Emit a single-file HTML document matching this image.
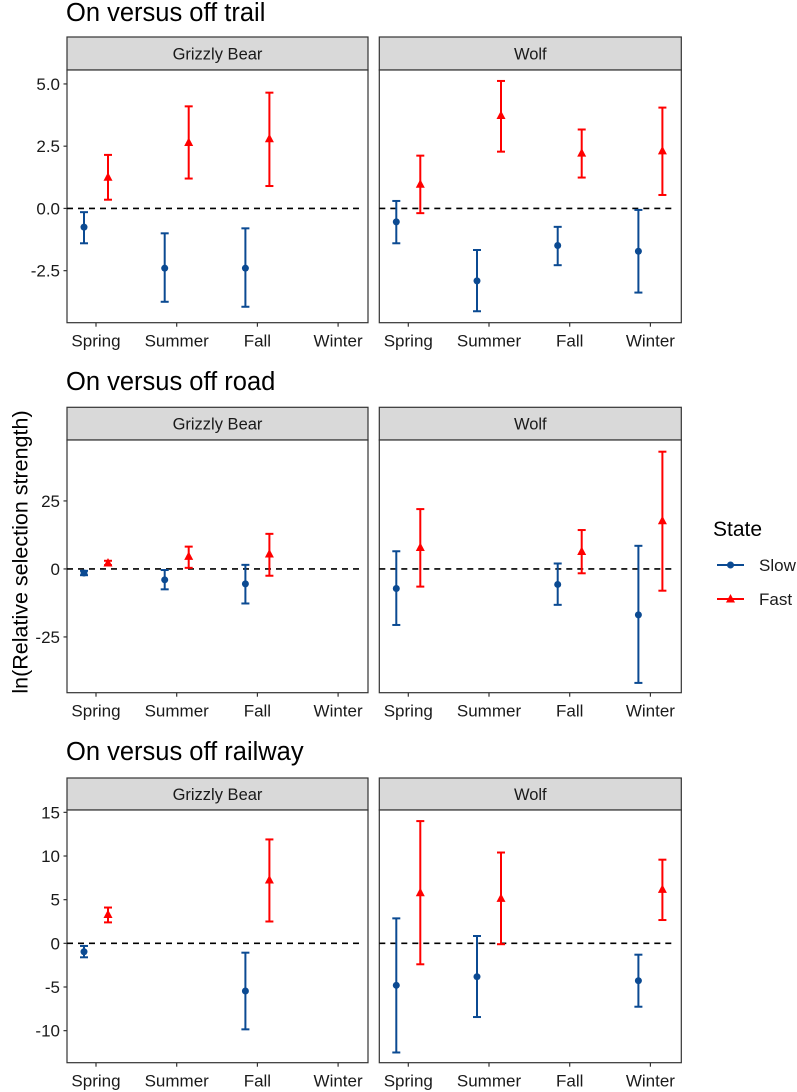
<!DOCTYPE html>
<html><head><meta charset="utf-8"><style>
html,body{margin:0;padding:0;background:#fff;}
svg{display:block;font-family:"Liberation Sans",Arial,sans-serif;}
</style></head><body>
<svg id="chart" width="797" height="1092" viewBox="0 0 797 1092" xmlns="http://www.w3.org/2000/svg">
<text transform="translate(22,552) rotate(-90)" text-anchor="middle" dominant-baseline="middle" font-size="21.5" fill="#000">ln(Relative selection strength)</text>
<g>
<text x="713" y="536" font-size="21" fill="#000">State</text>
<g>
<line x1="717" y1="565" x2="744" y2="565" stroke="#0b4a92" stroke-width="2"/>
<circle cx="730.5" cy="565" r="3.5" fill="#0b4a92"/>
<text x="759" y="571" font-size="17" fill="#1a1a1a">Slow</text></g>
<g>
<line x1="717" y1="599" x2="744" y2="599" stroke="#ff0000" stroke-width="2"/>
<path d="M730.5,594 L735,602.5 L726,602.5 Z" fill="#ff0000"/>
<text x="759" y="605" font-size="17" fill="#1a1a1a">Fast</text></g>
</g>
</svg>
<script>
const seasons = ["Spring","Summer","Fall","Winter"];
const rowTitles = ["On versus off trail","On versus off road","On versus off railway"];
const species = ["Grizzly Bear","Wolf"];
const ticksTrail = [-2.5,0,2.5,5];
const tickLabelsTrail = ["-2.5","0.0","2.5","5.0"];
const ticksRoad = [-25,0,25];
const tickLabelsRoad = ["-25","0","25"];
const ticksRail = [-10,-5,0,5,10,15];
const tickLabelsRail = ["-10","-5","0","5","10","15"];
// values: [season index, estimate, lower, upper]
const trailBearSlow = [[0,-0.75,-1.4,-0.15],[1,-2.4,-3.75,-1.0],[2,-2.4,-3.95,-0.8]];
const trailBearFast = [[0,1.25,0.35,2.15],[1,2.65,1.2,4.1],[2,2.8,0.9,4.65]];
const trailWolfSlow = [[0,-0.54,-1.4,0.3],[1,-2.91,-4.13,-1.67],[2,-1.49,-2.28,-0.74],[3,-1.72,-3.38,-0.06]];
const trailWolfFast = [[0,0.97,-0.19,2.12],[1,3.73,2.28,5.12],[2,2.22,1.24,3.17],[3,2.31,0.54,4.05]];
const roadBearSlow = [[0,-1.5,-2.3,-0.7],[1,-4.0,-7.5,-0.4],[2,-5.5,-12.7,1.5]];
const roadBearFast = [[0,2.2,1.4,3.0],[1,4.6,0.4,8.2],[2,5.5,-2.5,12.9]];
const roadWolfSlow = [[0,-7.2,-20.6,6.5],[2,-5.7,-13.2,2.0],[3,-16.9,-41.9,8.5]];
const roadWolfFast = [[0,7.9,-6.5,22],[2,6.4,-1.6,14.3],[3,17.7,-8.0,43.1]];
const railBearSlow = [[0,-0.96,-1.6,-0.3],[2,-5.46,-9.85,-1.07]];
const railBearFast = [[0,3.3,2.4,4.1],[2,7.25,2.5,11.9]];
const railWolfSlow = [[0,-4.81,-12.5,2.86],[1,-3.82,-8.44,0.84],[3,-4.28,-7.26,-1.3]];
const railWolfFast = [[0,5.8,-2.4,14.0],[1,5.15,-0.1,10.4],[3,6.18,2.67,9.58]];

const svg = document.getElementById('chart');
const NS = 'http://www.w3.org/2000/svg';
function mk(tag, attrs, parent){const e=document.createElementNS(NS,tag);for(const k in attrs)e.setAttribute(k,attrs[k]);(parent||svg).appendChild(e);return e;}

const rows = [
 {title:rowTitles[0], titleY:21, stripTop:37, top:70, bottom:322.7, dmax:5.56, dmin:-4.59, ticks:ticksTrail, labels:tickLabelsTrail, data:[[trailBearSlow,trailBearFast],[trailWolfSlow,trailWolfFast]]},
 {title:rowTitles[1], titleY:390, stripTop:407.3, top:440, bottom:692.7, dmax:47.4, dmin:-45.5, ticks:ticksRoad, labels:tickLabelsRoad, data:[[roadBearSlow,roadBearFast],[roadWolfSlow,roadWolfFast]]},
 {title:rowTitles[2], titleY:760, stripTop:778, top:810, bottom:1062.7, dmax:15.27, dmin:-13.67, ticks:ticksRail, labels:tickLabelsRail, data:[[railBearSlow,railBearFast],[railWolfSlow,railWolfFast]]}
];
const panelsX = [[67,368],[379.3,681.3]];
const colors = ['#0b4a92','#ff0000'];

rows.forEach((r,ri)=>{
  const t = mk('text',{x:66,y:r.titleY,'font-size':25.5,fill:'#000'});
  
  
  t.textContent = r.title;
  const yS = v => r.top + (r.dmax - v)/(r.dmax - r.dmin)*(r.bottom - r.top);
  r.ticks.forEach((tv,i)=>{
    const y = yS(tv);
    mk('line',{x1:63.5,y1:y,x2:67,y2:y,stroke:'#333','stroke-width':1.2});
    const tl = mk('text',{x:60,y:y+6,'text-anchor':'end','font-size':17,fill:'#1a1a1a'});
    
    
    tl.textContent = r.labels[i];
  });
  panelsX.forEach((px,pi)=>{
    const [x0,x1] = px;
    const g = mk('g',{});
    
    
    const strip = mk('rect',{x:x0,y:r.stripTop,width:x1-x0,height:r.top-r.stripTop,fill:'#d9d9d9',stroke:'#333','stroke-width':1.2},g);
    
    
    const st = mk('text',{x:(x0+x1)/2,y:(r.stripTop+r.top)/2+6,'text-anchor':'middle','font-size':16.5,fill:'#1a1a1a'},g);
    
    
    st.textContent = species[pi];
    mk('rect',{x:x0,y:r.top,width:x1-x0,height:r.bottom-r.top,fill:'#fff',stroke:'#333','stroke-width':1.2},g);
    const xt = i => x0 + 29 + i*80.7;
    const zl = mk('line',{x1:x0,y1:yS(0),x2:x1-7,y2:yS(0),stroke:'#000','stroke-width':1.6,'stroke-dasharray':'6,5'},g);
    
    
    seasons.forEach((s,i)=>{
      mk('line',{x1:xt(i),y1:r.bottom,x2:xt(i),y2:r.bottom+4,stroke:'#333','stroke-width':1.2},g);
      const xl = mk('text',{x:xt(i),y:r.bottom+24,'text-anchor':'middle','font-size':17,fill:'#1a1a1a'},g);
      
      
      xl.textContent = s;
    });
    r.data[pi].forEach((series,si)=>{
      const off = si===0 ? -12 : 12;
      series.forEach(d=>{
        const cx = xt(d[0]) + off;
        const eg = mk('g',{},g);
        
        
        const c = colors[si];
        mk('line',{x1:cx,y1:yS(d[2]),x2:cx,y2:yS(d[3]),stroke:c,'stroke-width':2},eg);
        mk('line',{x1:cx-4,y1:yS(d[2]),x2:cx+4,y2:yS(d[2]),stroke:c,'stroke-width':2},eg);
        mk('line',{x1:cx-4,y1:yS(d[3]),x2:cx+4,y2:yS(d[3]),stroke:c,'stroke-width':2},eg);
        const cy = yS(d[1]);
        if(si===0) mk('circle',{cx:cx,cy:cy,r:3.5,fill:c},eg);
        else mk('path',{d:`M${cx},${cy-5} L${cx+4.5},${cy+3.5} L${cx-4.5},${cy+3.5} Z`,fill:c},eg);
      });
    });
  });
});
</script>
</body></html>
